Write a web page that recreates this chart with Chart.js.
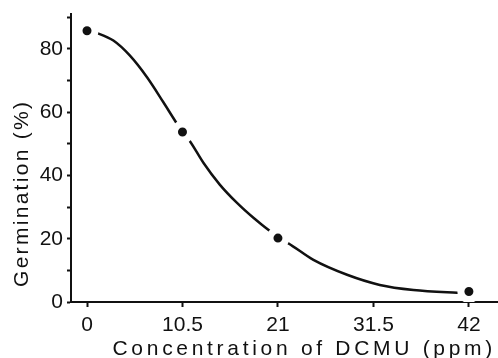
<!DOCTYPE html>
<html>
<head>
<meta charset="utf-8">
<script src="https://cdn.jsdelivr.net/npm/chart.js@4/dist/chart.umd.min.js"></script>
<style>
  html, body { margin: 0; padding: 0; background: #fff; }
  #wrap { width: 498px; height: 358px; }
</style>
</head>
<body>
<div id="wrap"><canvas id="chart"></canvas></div>
<script>
// measured points
const concentration = [0, 10.5, 21, 42];
const germination = [85.7, 53.7, 20.2, 3.3];

// fitted curve
const curveConc = [0, 1, 2.9, 4.7, 6.6, 8.4, 9.7, 10.5, 11.3, 12.8, 14.6, 16.5, 18.3, 19.9, 21, 22.1, 24.9, 28.6, 32.2, 35.9, 40.7, 42];
const curveGerm = [86, 85.1, 82.6, 77.9, 71.0, 63.1, 57.2, 53.7, 50.9, 44.0, 37.1, 31.3, 26.6, 22.9, 20.2, 18.6, 13.3, 8.6, 5.4, 3.8, 2.95, 2.8];

const xTicks = [0, 10.5, 21, 31.5, 42];
const yTicks = [0, 10, 20, 30, 40, 50, 60, 70, 80, 90];
const yLabels = [0, 20, 40, 60, 80];

const ink = "#111";
const font = { family: "'Liberation Sans', Arial, sans-serif", size: 21 };

// titles in the original are set wide, tick labels are not
const titleStyle = {
  x: { spacing: "3.7px", dx: -2, dy: 0 },
  y: { spacing: "2.3px", dx: 0, dy: -15 }
};

const wideTitles = {
  id: "wideTitles",
  beforeDraw(chart) {
    Object.values(chart.scales).forEach(scale => {
      if (scale._widePatched) return;
      const st = titleStyle[scale.id];
      const orig = scale.drawTitle;
      scale.drawTitle = function () {
        const c = this.ctx;
        c.save();
        c.letterSpacing = st.spacing;
        c.translate(st.dx, st.dy);
        orig.call(this);
        c.restore();
      };
      scale._widePatched = true;
    });
  }
};

// the axes run right up to the edges, no room kept for end labels
function noEdgePadding(s) {
  s.paddingLeft = s.paddingRight = s.paddingTop = s.paddingBottom = 0;
}

const ctx = document.getElementById("chart").getContext("2d");
const chart = new Chart(ctx, {
  type: "scatter",
  data: {
    datasets: [
      {
        label: "measured",
        data: concentration.map((x, i) => ({ x, y: germination[i] })),
        showLine: false,
        pointRadius: 8,
        pointBorderWidth: 7,
        pointBackgroundColor: ink,
        pointBorderColor: "#fff",
        order: 0
      },
      {
        label: "curve",
        data: curveConc.map((x, i) => ({ x, y: curveGerm[i] })),
        showLine: true,
        pointRadius: 0,
        borderColor: ink,
        borderWidth: 2.5,
        cubicInterpolationMode: "monotone",
        order: 1
      }
    ]
  },
  options: {
    responsive: true,
    maintainAspectRatio: false,
    animation: false,
    layout: { autoPadding: false, padding: { top: 14, right: 0, left: 0, bottom: 0 } },
    plugins: { legend: { display: false }, tooltip: { enabled: false } },
    scales: {
      x: {
        type: "linear",
        min: -1.76,
        max: 45.2,
        z: 1,
        afterBuildTicks: s => { s.ticks = xTicks.map(v => ({ value: v })); },
        afterFit: s => { s.height = 56; noEdgePadding(s); },
        grid: { drawOnChartArea: false, drawTicks: true, tickLength: 5, tickWidth: 2, tickColor: ink },
        border: { display: true, color: ink, width: 2 },
        ticks: { color: ink, font, padding: 6, maxRotation: 0, autoSkip: false, callback: v => String(v) },
        title: { display: true, text: "Concentration of DCMU (ppm)", color: ink, font, align: "end", padding: { top: 0, bottom: -4 } }
      },
      y: {
        type: "linear",
        min: 0,
        max: 91,
        z: 1,
        afterBuildTicks: s => { s.ticks = yTicks.map(v => ({ value: v })); },
        afterFit: s => { s.width = 71; noEdgePadding(s); },
        grid: { drawOnChartArea: false, drawTicks: true, tickLength: 4, tickWidth: 2, tickColor: ink },
        border: { display: true, color: ink, width: 2 },
        ticks: { color: ink, font, padding: 4, autoSkip: false, callback: v => yLabels.includes(v) ? String(v) : "" },
        title: { display: true, text: "Germination (%)", color: ink, font, align: "start", padding: { top: 10, bottom: 0 } }
      }
    }
  },
  plugins: [wideTitles]
});
</script>
</body>
</html>
